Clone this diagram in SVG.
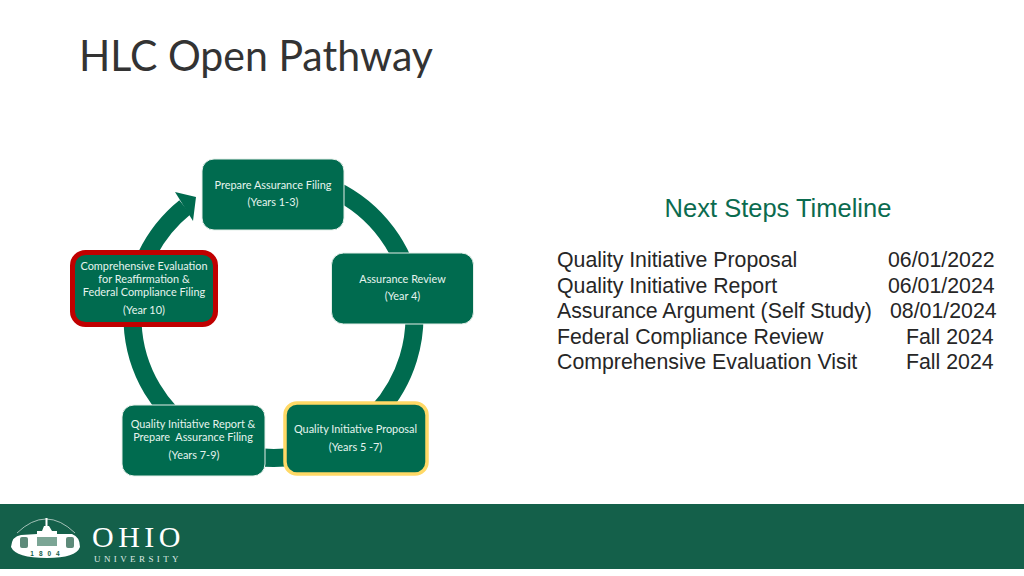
<svg xmlns="http://www.w3.org/2000/svg" width="1024" height="576" viewBox="0 0 1024 576">
<style>
.box{fill:#006b4f;stroke:#e4efe9;stroke-width:1}
.t{font-family:Lato,"Open Sans",sans-serif;font-size:10.9px;fill:#e6f4ee;text-anchor:middle;white-space:pre}
.r{font-family:"Liberation Sans",Arial,sans-serif;font-size:21.3px;fill:#262626}
</style>
<rect width="1024" height="576" fill="#fff"/>
<text id="title" x="79" y="71" font-family="Lato,'Open Sans',sans-serif" font-weight="400" font-size="42px" textLength="354" lengthAdjust="spacingAndGlyphs" fill="#333333">HLC Open Pathway</text>
<g id="connectors">
<path d="M185 207.200A141 141 0 1 0 273.500 176" fill="none" stroke="#006b4f" stroke-width="18"/>
<polygon points="196,197 175,192 193,221" fill="#006b4f"/>
</g>
<g id="node-prepare"><rect class="box" x="202" y="159" width="142" height="71" rx="12"/>
<text class="t" x="273" y="189">Prepare Assurance Filing</text><text class="t" x="273" y="206">(Years 1-3)</text></g>
<g id="node-review"><rect class="box" x="331.500" y="253" width="142" height="71" rx="12"/>
<text class="t" x="402.500" y="283">Assurance Review</text><text class="t" x="402.500" y="300">(Year 4)</text></g>
<g id="node-proposal"><rect x="285" y="403" width="142" height="71" rx="12" fill="#006b4f" stroke="#ffd966" stroke-width="3.500"/>
<text class="t" x="355.500" y="433">Quality Initiative Proposal</text><text class="t" x="355.500" y="451">(Years 5 -7)</text></g>
<g id="node-report"><rect class="box" x="122" y="405" width="143" height="71" rx="12"/>
<text class="t" x="193" y="428">Quality Initiative Report &amp;</text><text class="t" x="193" y="441">Prepare  Assurance Filing</text><text class="t" x="194" y="459">(Years 7-9)</text></g>
<g id="node-comprehensive"><rect x="72.500" y="252.500" width="143" height="72" rx="13" fill="#006b4f" stroke="#c00000" stroke-width="5"/>
<text class="t" x="144" y="270">Comprehensive Evaluation</text><text class="t" x="144" y="283">for Reaffirmation &amp;</text><text class="t" x="144" y="296">Federal Compliance Filing</text><text class="t" x="144" y="314">(Year 10)</text></g>
<g id="timeline">
<text x="778" y="217" text-anchor="middle" font-family="'Liberation Sans',Arial,sans-serif" font-size="25.500px" fill="#0b6b4f">Next Steps Timeline</text>
<text class="r" x="557" y="267">Quality Initiative Proposal</text><text class="r" x="888" y="267">06/01/2022</text>
<text class="r" x="557" y="293">Quality Initiative Report</text><text class="r" x="888" y="293">06/01/2024</text>
<text class="r" x="557" y="318">Assurance Argument (Self Study)</text><text class="r" x="890" y="318">08/01/2024</text>
<text class="r" x="557" y="344">Federal Compliance Review</text><text class="r" x="906" y="344">Fall 2024</text>
<text class="r" x="557" y="369">Comprehensive Evaluation Visit</text><text class="r" x="906" y="369">Fall 2024</text>
</g>
<g id="banner">
<rect x="0" y="504" width="1024" height="65" fill="#14604a"/>
<path d="M17 533Q46 505 75 533" fill="none" stroke="#dfeae5" stroke-width="0.700"/>
<path d="M11 547Q12 536 21 535L37 534V531H42L44 526H45.500V518H47.500V526H49L52 531H57V534H72Q80 537 80 547Q76 558 47 558Q16 558 11 547Z" fill="#fff"/>
<rect x="20" y="537" width="8" height="11" rx="2" fill="#5d8a79"/><rect x="37" y="537" width="20" height="9" fill="#7ba595"/><rect x="66" y="537" width="8" height="11" rx="2" fill="#5d8a79"/>
<text x="47.500" y="556" text-anchor="middle" font-family="'Liberation Sans',Arial,sans-serif" font-weight="700" font-size="6.500px" letter-spacing="5" fill="#14604a">1804</text>
<text x="92" y="547" font-family="'Liberation Serif',serif" font-size="30px" letter-spacing="4.500" fill="#fff">OHIO</text>
<text x="94" y="562" font-family="'Liberation Serif',serif" font-size="9px" letter-spacing="3.400" fill="#dfeae5">UNIVERSITY</text>
</g>
</svg>
